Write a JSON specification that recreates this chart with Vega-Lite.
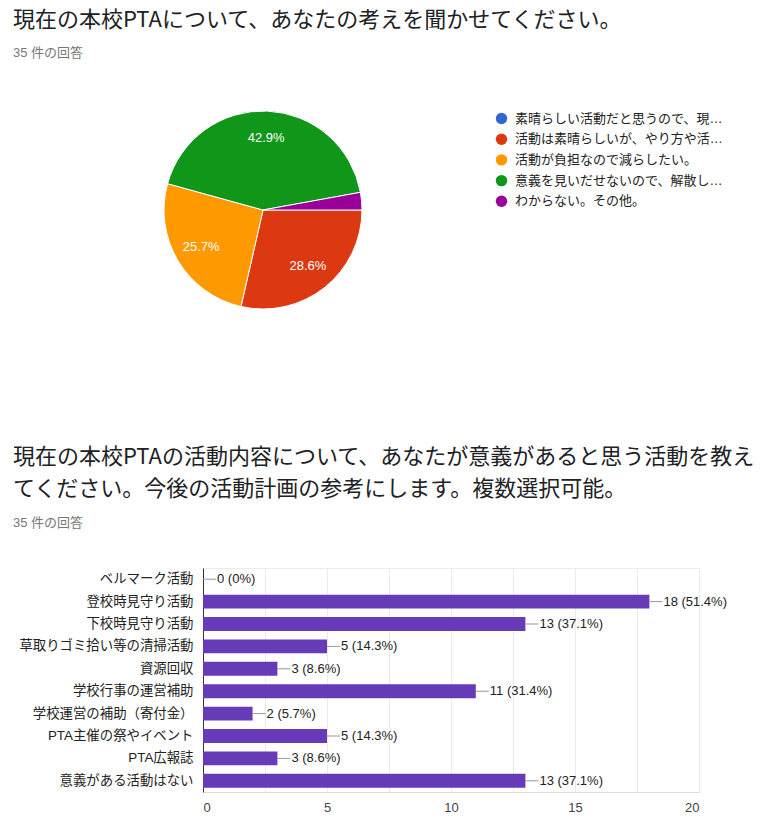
{
  "$schema": "https://vega.github.io/schema/vega-lite/v6.json",
  "background": "white",
  "padding": {"left": 12, "top": 9, "right": 0, "bottom": 0},
  "spacing": 106,
  "config": {
    "view": {"stroke": null},
    "title": {
      "font": "Noto Sans CJK JP",
      "fontSize": 22,
      "fontWeight": "normal",
      "color": "#202124",
      "anchor": "start",
      "frame": "group",
      "dx": -190,
      "subtitleFont": "Liberation Sans, Noto Sans CJK JP",
      "subtitleFontSize": 13,
      "subtitleColor": "#777777"
    }
  },
  "vconcat": [
    {
      "title": {
        "text": "現在の本校PTAについて、あなたの考えを聞かせてください。",
        "subtitle": "35 件の回答",
        "subtitlePadding": 15,
        "offset": 20
      },
      "width": 120,
      "height": 258,
      "data": {
        "values": [
          {"no": 1, "answer": "素晴らしい活動だと思うので、現…", "count": 0, "pct": "0%"},
          {"no": 2, "answer": "活動は素晴らしいが、やり方や活…", "count": 10, "pct": "28.6%"},
          {"no": 3, "answer": "活動が負担なので減らしたい。", "count": 9, "pct": "25.7%"},
          {"no": 4, "answer": "意義を見いだせないので、解散し…", "count": 15, "pct": "42.9%"},
          {"no": 5, "answer": "わからない。その他。", "count": 1, "pct": "2.9%"}
        ]
      },
      "encoding": {
        "theta": {"field": "count", "type": "quantitative", "stack": true, "scale": {"range": [1.5708, 7.854]}},
        "order": {"field": "no", "type": "quantitative"},
        "color": {
          "field": "answer",
          "type": "nominal",
          "sort": null,
          "scale": {
            "domain": ["素晴らしい活動だと思うので、現…", "活動は素晴らしいが、やり方や活…", "活動が負担なので減らしたい。", "意義を見いだせないので、解散し…", "わからない。その他。"],
            "range": ["#3366cc", "#dc3912", "#ff9900", "#109618", "#990099"]
          },
          "legend": {
            "orient": "none",
            "legendX": 292,
            "legendY": 31,
            "title": null,
            "symbolType": "circle",
            "symbolSize": 130,
            "symbolStrokeWidth": 0,
            "labelFont": "Liberation Sans, Noto Sans CJK JP",
            "labelFontSize": 13,
            "labelColor": "#222222",
            "labelLimit": 300,
            "rowPadding": 6.7,
            "labelOffset": 7
          }
        }
      },
      "layer": [
        {"mark": {"type": "arc", "outerRadius": 99, "stroke": "white", "strokeWidth": 1}},
        {
          "mark": {"type": "text", "radius": 72, "fontSize": 13, "font": "Liberation Sans, Noto Sans CJK JP"},
          "encoding": {
            "text": {"field": "pct"},
            "color": {"value": "white"},
            "opacity": {"condition": {"test": "datum.count < 3", "value": 0}, "value": 1}
          }
        }
      ]
    },
    {
      "title": {
        "text": ["現在の本校PTAの活動内容について、あなたが意義があると思う活動を教え", "てください。今後の活動計画の参考にします。複数選択可能。"],
        "subtitle": "35 件の回答",
        "subtitlePadding": 16,
        "lineHeight": 32,
        "offset": 37
      },
      "width": 496,
      "height": 224,
      "view": {"stroke": "#ebebeb"},
      "data": {
        "values": [
          {"activity": "ベルマーク活動", "count": 0, "label": "0 (0%)"},
          {"activity": "登校時見守り活動", "count": 18, "label": "18 (51.4%)"},
          {"activity": "下校時見守り活動", "count": 13, "label": "13 (37.1%)"},
          {"activity": "草取りゴミ拾い等の清掃活動", "count": 5, "label": "5 (14.3%)"},
          {"activity": "資源回収", "count": 3, "label": "3 (8.6%)"},
          {"activity": "学校行事の運営補助", "count": 11, "label": "11 (31.4%)"},
          {"activity": "学校運営の補助（寄付金）", "count": 2, "label": "2 (5.7%)"},
          {"activity": "PTA主催の祭やイベント", "count": 5, "label": "5 (14.3%)"},
          {"activity": "PTA広報誌", "count": 3, "label": "3 (8.6%)"},
          {"activity": "意義がある活動はない", "count": 13, "label": "13 (37.1%)"}
        ]
      },
      "encoding": {
        "y": {
          "field": "activity",
          "type": "nominal",
          "sort": null,
          "scale": {"paddingInner": 0.38, "paddingOuter": 0.19},
          "axis": {
            "title": null,
            "ticks": false,
            "domainColor": "#333333",
            "labelFont": "Liberation Sans, Noto Sans CJK JP",
            "labelFontSize": 13.4,
            "labelColor": "#222222",
            "labelPadding": 10,
            "labelLimit": 300
          }
        },
        "x": {
          "field": "count",
          "type": "quantitative",
          "scale": {"domain": [0, 20], "nice": false},
          "axis": {
            "title": null,
            "values": [0, 2.5, 5, 7.5, 10, 12.5, 15, 17.5, 20],
            "labelExpr": "datum.value % 5 === 0 ? datum.label : ''",
            "ticks": false,
            "domainColor": "#dddddd",
            "gridColor": "#ebebeb",
            "labelFont": "Liberation Sans, Noto Sans CJK JP",
            "labelFontSize": 13,
            "labelColor": "#444444",
            "labelPadding": 9
          }
        }
      },
      "layer": [
        {"mark": {"type": "bar", "color": "#673ab7"}},
        {
          "mark": {"type": "rule", "color": "#999999", "x2Offset": 13},
          "encoding": {"x2": {"field": "count"}}
        },
        {
          "mark": {"type": "text", "align": "left", "baseline": "middle", "dx": 14, "fontSize": 13, "color": "#222222", "font": "Liberation Sans, Noto Sans CJK JP"},
          "encoding": {"text": {"field": "label"}}
        }
      ]
    }
  ]
}
